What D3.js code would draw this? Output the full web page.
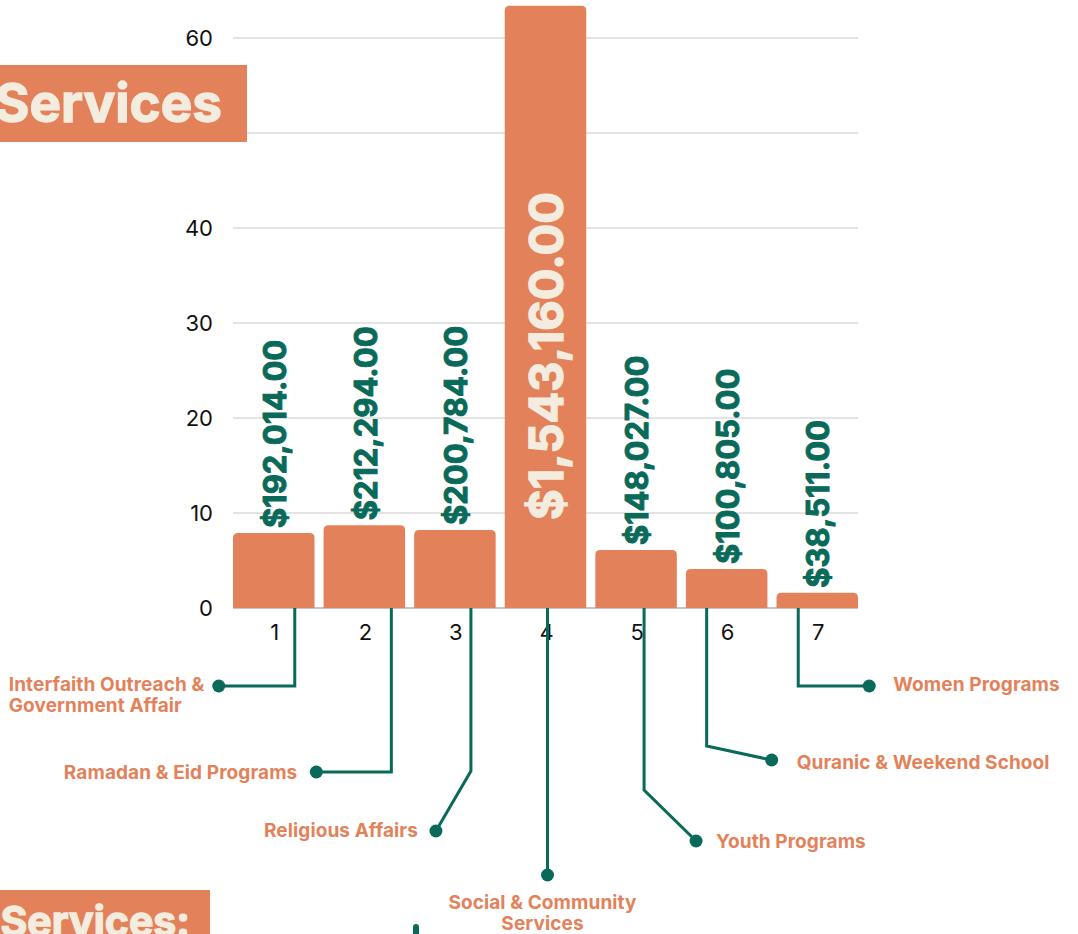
<!DOCTYPE html>
<html lang="en">
<head>
<meta charset="utf-8">
<title>Services spending</title>
<script src="https://d3js.org/d3.v7.min.js"></script>
<style>
  body { margin: 0; background: #fff; }
  svg { display: block; }
  .tick-lbl { font-family: Inter, "Open Sans", sans-serif; font-size: 22px; fill: #111; }
  .val { font-family: Inter, sans-serif; font-weight: 700; }
  .callout { font-family: Inter, sans-serif; font-weight: 700; font-size: 19px; letter-spacing: 0.1px; fill: #e3825a; }
  .banner { font-family: Inter, sans-serif; font-weight: 700; fill: #f3ecdf; stroke: #f3ecdf; stroke-width: 1.4px; }
</style>
</head>
<body>
<svg width="1078" height="934"></svg>
<script>
// bar categories and their share of spending (%)
const categories = ["1", "2", "3", "4", "5", "6", "7"];
const shares = [7.9, 8.7, 8.2, 63.4, 6.1, 4.1, 1.6];
const amounts = ["$192,014.00", "$212,294.00", "$200,784.00", "$1,543,160.00", "$148,027.00", "$100,805.00", "$38,511.00"];
const names = [
  ["Interfaith Outreach &", "Government Affair"],
  ["Ramadan & Eid Programs"],
  ["Religious Affairs"],
  ["Social & Community", "Services"],
  ["Youth Programs"],
  ["Quranic & Weekend School"],
  ["Women Programs"]
];
const yTicks = [0, 10, 20, 30, 40, 50, 60];

const orange = "#e3825a", green = "#0a6a5a", cream = "#f3ecdf";

const svg = d3.select("svg");

const x = d3.scaleBand().domain(categories).range([233, 858]).paddingInner(0.1).paddingOuter(0);
const y = d3.scaleLinear().domain([0, 60]).range([608, 38]);
const bw = x.bandwidth();

// gridlines + y labels
svg.append("g").selectAll("line").data(yTicks).enter().append("line")
  .attr("x1", 233).attr("x2", 858)
  .attr("y1", d => y(d)).attr("y2", d => y(d))
  .attr("stroke", d => d === 0 ? "#8a8a8a" : "#c8c8c8").attr("stroke-width", 1);

svg.append("g").selectAll("text").data(yTicks).enter().append("text")
  .attr("class", "tick-lbl")
  .attr("x", 213).attr("y", d => y(d))
  .attr("dy", "0.36em").attr("text-anchor", "end")
  .text(d => d);

// bars with rounded tops
const r = 5;
svg.append("g").selectAll("path").data(shares).enter().append("path")
  .attr("fill", orange)
  .attr("d", (d, i) => {
    const x0 = x(categories[i]), x1 = x0 + bw, yt = y(d), yb = y(0);
    return `M${x0},${yb}V${yt + r}Q${x0},${yt} ${x0 + r},${yt}H${x1 - r}Q${x1},${yt} ${x1},${yt + r}V${yb}Z`;
  });

// x tick labels
svg.append("g").selectAll("text").data(categories).enter().append("text")
  .attr("class", "tick-lbl")
  .attr("x", d => x(d) + bw / 2 + 1).attr("y", 640)
  .attr("text-anchor", "middle")
  .text(d => d);

// value labels (rotated)
svg.append("g").selectAll("text").data(shares).enter().append("text")
  .attr("class", "val")
  .attr("transform", (d, i) => {
    const cx = x(categories[i]) + bw / 2 + 1;
    const big = d > 30;
    const sy = big ? y(0) - 88 : y(d) - 5;
    return `translate(${cx},${sy}) rotate(-90)`;
  })
  .attr("dy", "0.36em")
  .attr("font-size", d => d > 30 ? 47 : 31)
  .attr("fill", d => d > 30 ? cream : green)
  .attr("stroke", d => d > 30 ? cream : green)
  .attr("stroke-width", d => d > 30 ? 1.4 : 1)
  .text((d, i) => amounts[i]);

// callouts: offsets from band centre, bend points and label placement
const callouts = [
  { dx: 21, pts: [[0, 686], [-76, 686]], lx: -286, ly: 691, align: "start" },
  { dx: 27, pts: [[0, 772], [-75, 772]], anchor: "end", lx: -94, ly: 779 },
  { dx: 16, pts: [[0, 771], [-35, 831]], anchor: "end", lx: -53, ly: 837 },
  { dx: 2, pts: [[0, 875]], anchor: "middle", lx: -5, ly: 909 },
  { dx: 8, pts: [[0, 790], [52, 841]], anchor: "start", lx: 72, ly: 848 },
  { dx: -20, pts: [[0, 746], [65, 760]], anchor: "start", lx: 90, ly: 769 },
  { dx: -19, pts: [[0, 686], [71, 686]], anchor: "start", lx: 95, ly: 691 }
];

const cg = svg.append("g");
callouts.forEach((c, i) => {
  const lx0 = x(categories[i]) + bw / 2 + c.dx;
  const pts = [[lx0, y(0)]].concat(c.pts.map(p => [lx0 + p[0], p[1]]));
  cg.append("path")
    .attr("d", d3.line()(pts))
    .attr("fill", "none").attr("stroke", green).attr("stroke-width", 3);
  const end = pts[pts.length - 1];
  cg.append("circle").attr("cx", end[0]).attr("cy", end[1]).attr("r", 6.5).attr("fill", green);
  const t = cg.append("text")
    .attr("class", "callout")
    .attr("text-anchor", c.align || c.anchor)
    .attr("x", lx0 + c.lx).attr("y", c.ly);
  names[i].forEach((s, k) => {
    t.append("tspan").attr("x", lx0 + c.lx).attr("dy", k === 0 ? 0 : 21).text(s);
  });
});

// stray line entering at the bottom
svg.append("line").attr("x1", 416).attr("x2", 416).attr("y1", 927).attr("y2", 945)
  .attr("stroke", green).attr("stroke-width", 6).attr("stroke-linecap", "round");

// banner boxes
svg.append("rect").attr("x", 0).attr("y", 65).attr("width", 247).attr("height", 77).attr("fill", orange);
svg.append("text").attr("class", "banner").attr("font-size", 53)
  .attr("x", 222).attr("y", 122).attr("text-anchor", "end").text("Services");

svg.append("rect").attr("x", 0).attr("y", 890).attr("width", 210).attr("height", 60).attr("fill", orange);
svg.append("text").attr("class", "banner").attr("font-size", 41)
  .attr("x", 190).attr("y", 936).attr("text-anchor", "end").text("Services:");
</script>
</body>
</html>
